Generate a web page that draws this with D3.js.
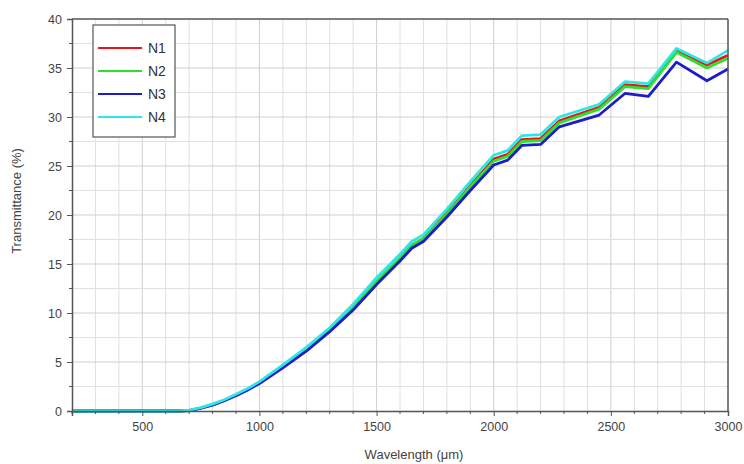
<!DOCTYPE html>
<html>
<head>
<meta charset="utf-8">
<script src="https://cdn.jsdelivr.net/npm/d3@7"></script>
<style>
  body { margin: 0; background: #fff; }
  text { font-family: "Liberation Sans", Arial, sans-serif; }
</style>
</head>
<body>
<div id="chart"></div>
<script>
// wavelength (um) and transmittance (%)
var wavelengths = [200,300,400,500,600,650,700,750,800,850,900,950,1000,1100,1200,1300,1400,1500,1600,1650,1700,1800,1900,2000,2060,2120,2200,2280,2450,2560,2660,2780,2910,3000];
var n1 = [0,0,0,0,0,0,0.05,0.3,0.65,1.1,1.6,2.2,2.9,4.5,6.3,8.3,10.6,13.2,15.6,16.9,17.6,20.2,23.0,25.7,26.2,27.7,27.8,29.6,31.0,33.3,33.1,36.8,35.3,36.3];
var n2 = [0,0,0,0,0,0,0.05,0.3,0.65,1.1,1.6,2.2,2.9,4.5,6.3,8.3,10.6,13.2,15.6,16.9,17.6,20.1,22.9,25.5,26.0,27.5,27.6,29.4,30.8,33.1,32.9,36.6,35.0,36.0];
var n3 = [0,0,0,0,0,0,0.05,0.3,0.6,1.05,1.55,2.15,2.8,4.4,6.1,8.1,10.3,12.9,15.3,16.6,17.3,19.8,22.5,25.1,25.6,27.1,27.2,29.0,30.2,32.4,32.1,35.6,33.7,34.9];
var n4 = [0,0,0,0,0,0,0.08,0.35,0.7,1.15,1.7,2.3,3.0,4.7,6.5,8.5,10.9,13.6,16.0,17.3,18.0,20.6,23.4,26.1,26.6,28.1,28.2,30.0,31.3,33.6,33.4,37.0,35.5,36.8];

var seriesNames = ["N1", "N2", "N3", "N4"];
var seriesColors = ["#e8141a", "#2ee02e", "#1c1cc8", "#2ee6e6"];
var xTickLabels = [500, 1000, 1500, 2000, 2500, 3000];
var yTickLabels = [0, 5, 10, 15, 20, 25, 30, 35, 40];

var width = 744, height = 464;
var margin = {top: 19, left: 72, right: 16, bottom: 53};
var w = width - margin.left - margin.right;
var h = height - margin.top - margin.bottom;

var svg = d3.select("#chart").append("svg")
    .attr("width", width)
    .attr("height", height);

var g = svg.append("g")
    .attr("transform", "translate(" + margin.left + "," + margin.top + ")");

var xScale = d3.scaleLinear().domain([200, 3000]).range([0, w]);
var yScale = d3.scaleLinear().domain([0, 40]).range([h, 0]);

//////////////////// grid ////////////////////
var xMinor = d3.range(300, 3000, 100);
var yMinor = d3.range(2.5, 40, 2.5);

g.selectAll(".vgrid").data(xMinor).enter().append("line")
    .attr("class", "vgrid")
    .attr("x1", function(d) { return xScale(d); })
    .attr("x2", function(d) { return xScale(d); })
    .attr("y1", 0).attr("y2", h)
    .attr("stroke", function(d) { return d % 500 == 0 ? "#cfcfcf" : "#e0e0e0"; })
    .attr("stroke-width", 1);

g.selectAll(".hgrid").data(yMinor).enter().append("line")
    .attr("class", "hgrid")
    .attr("y1", function(d) { return yScale(d); })
    .attr("y2", function(d) { return yScale(d); })
    .attr("x1", 0).attr("x2", w)
    .attr("stroke", function(d) { return d % 5 == 0 ? "#cfcfcf" : "#e0e0e0"; })
    .attr("stroke-width", 1);

//////////////////// lines ////////////////////
var allSeries = [n1, n2, n3, n4];
var linesData = seriesNames.map(function(name, i) {
  return {key: name, values: wavelengths.map(function(x, j) { return {x: x, y: allSeries[i][j]}; })};
});

var line = d3.line()
    .x(function(d) { return xScale(d.x); })
    .y(function(d) { return yScale(d.y); });

g.selectAll(".line").data(linesData).enter().append("path")
    .attr("class", "line")
    .attr("d", function(d) { return line(d.values); })
    .attr("fill", "none")
    .attr("stroke", function(d, i) { return seriesColors[i]; })
    .attr("stroke-width", 2.8)
    .attr("stroke-linejoin", "round");

//////////////////// axes ////////////////////
var xAxis = d3.axisBottom(xScale).tickValues(xTickLabels).tickFormat(d3.format("d")).tickSize(5).tickPadding(6);
var yAxis = d3.axisLeft(yScale).tickValues(yTickLabels).tickFormat(d3.format("d")).tickSize(5).tickPadding(5);

var gx = g.append("g").attr("transform", "translate(0," + h + ")").call(xAxis);
var gy = g.append("g").call(yAxis);

// minor ticks
gx.selectAll(".minor").data(xMinor.filter(function(d) { return d % 500 != 0; }).concat([200])).enter()
  .append("line").attr("class", "minor")
    .attr("x1", function(d) { return xScale(d); })
    .attr("x2", function(d) { return xScale(d); })
    .attr("y1", 0).attr("y2", 3)
    .attr("stroke", "#555");
gy.selectAll(".minor").data(yMinor.filter(function(d) { return d % 5 != 0; })).enter()
  .append("line").attr("class", "minor")
    .attr("y1", function(d) { return yScale(d); })
    .attr("y2", function(d) { return yScale(d); })
    .attr("x1", 0).attr("x2", -3)
    .attr("stroke", "#555");

[gx, gy].forEach(function(a) {
  a.select(".domain").attr("stroke", "#555").attr("stroke-width", 1.5);
  a.selectAll(".tick line").attr("stroke", "#555");
  a.selectAll("text").attr("font-size", 12.5).attr("fill", "#444")
    .style("font-family", "'Liberation Sans', Arial, sans-serif");
});

// top and right frame
g.append("line").attr("x1", 0).attr("x2", w).attr("y1", 0).attr("y2", 0)
    .attr("stroke", "#555").attr("stroke-width", 1.5);
g.append("line").attr("x1", w).attr("x2", w).attr("y1", 0).attr("y2", h)
    .attr("stroke", "#555").attr("stroke-width", 1.5);

// axis titles
svg.append("text")
    .attr("x", 414).attr("y", 459)
    .attr("text-anchor", "middle")
    .attr("font-size", 13).attr("fill", "#444")
    .text("Wavelength (\u03bcm)");

svg.append("text")
    .attr("transform", "translate(21,201) rotate(-90)")
    .attr("text-anchor", "middle")
    .attr("font-size", 13).attr("fill", "#444")
    .text("Transmittance (%)");

//////////////////// legend ////////////////////
var legend = svg.append("g").attr("transform", "translate(93,25)");
legend.append("rect")
    .attr("width", 82).attr("height", 112)
    .attr("fill", "#fff").attr("stroke", "#555").attr("stroke-width", 1.2);

var items = legend.selectAll(".legendItem").data(seriesNames).enter().append("g")
    .attr("class", "legendItem")
    .attr("transform", function(d, i) { return "translate(0," + (23 + i * 23) + ")"; });
items.append("line")
    .attr("x1", 5).attr("x2", 49).attr("y1", 0).attr("y2", 0)
    .attr("stroke", function(d, i) { return seriesColors[i]; })
    .attr("stroke-width", 2.2);
items.append("text")
    .attr("x", 55).attr("y", 5)
    .attr("font-size", 14).attr("fill", "#333")
    .text(function(d) { return d; });
</script>
</body>
</html>
